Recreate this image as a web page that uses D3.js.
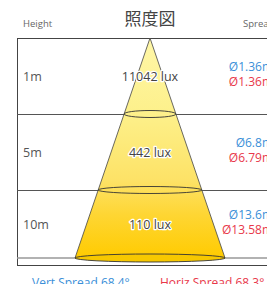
<!DOCTYPE html>
<html>
<head>
<meta charset="utf-8">
<script src="https://cdn.jsdelivr.net/npm/d3@7"></script>
<style>
  body { margin: 0; background: #fff; }
  svg { display: block; font-family: "Open Sans", sans-serif; }
</style>
</head>
<body>
<svg id="chart"></svg>
<script>
// rows of the illuminance chart
const heights = ["1m", "5m", "10m"];
const lux = [11042, 442, 110];
const vertDia = ["Ø1.36m", "Ø6.8m", "Ø13.6m"];
const horizDia = ["Ø1.36m", "Ø6.79m", "Ø13.58m"];
const vertSpread = 68.4;
const horizSpread = 68.3;

const width = 267, height = 284;
const svg = d3.select("#chart").attr("width", width).attr("height", height);

const blue = "#3a8fd8", red = "#e8384a";
const frameLeft = 17, frameTop = 38, frameBottom = 265, cx = 150;

// row edges (index -> y)
const y = d3.scaleLinear().domain([0, 1, 2, 3]).range([frameTop, 114, 190, 258]);
// cone half width as a function of y
const half = d3.scaleLinear().domain([frameTop, y(3)]).range([0, 75]);

const defs = svg.append("defs");
const grad = defs.append("linearGradient").attr("id", "cone")
    .attr("x1", 0).attr("y1", 0).attr("x2", 0).attr("y2", 1);
[[0, "#fff7a8"], [0.35, "#fdf08a"], [0.65, "#fde266"], [0.8, "#fed634"], [1, "#ffcb00"]]
  .forEach(([o, c]) => grad.append("stop").attr("offset", o).attr("stop-color", c));

// frame
const g = svg.append("g");
g.append("line").attr("x1", frameLeft).attr("x2", width + 5)
    .attr("y1", frameTop + 0.5).attr("y2", frameTop + 0.5).attr("stroke", "#444");
g.append("line").attr("x1", frameLeft + 0.5).attr("x2", frameLeft + 0.5)
    .attr("y1", frameTop).attr("y2", frameBottom).attr("stroke", "#444");
g.append("line").attr("x1", frameLeft).attr("x2", width + 5)
    .attr("y1", frameBottom + 0.5).attr("y2", frameBottom + 0.5).attr("stroke", "#444");
g.selectAll(".div").data([1, 2]).enter().append("line")
    .attr("x1", frameLeft).attr("x2", width + 5)
    .attr("y1", d => y(d) + 0.5).attr("y2", d => y(d) + 0.5)
    .attr("stroke", "#555");
g.append("line").attr("x1", frameLeft).attr("x2", width + 5)
    .attr("y1", y(3)).attr("y2", y(3)).attr("stroke", "#999").attr("stroke-width", 1.6);

// cone
const yb = y(3);
g.append("path")
    .attr("d", `M${cx},${frameTop}L${cx + half(yb)},${yb}L${cx - half(yb)},${yb}Z`)
    .attr("fill", "url(#cone)").attr("stroke", "#444").attr("stroke-width", 0.8)
    .attr("stroke-linejoin", "round");

// bottom ellipse filled, others outlined
g.append("ellipse").attr("cx", cx).attr("cy", yb).attr("rx", half(yb)).attr("ry", 4)
    .attr("fill", "#f7c800").attr("stroke", "#333").attr("stroke-width", 0.9);
g.selectAll(".ring").data([1, 2]).enter().append("ellipse")
    .attr("cx", cx).attr("cy", d => y(d)).attr("rx", d => half(y(d))).attr("ry", 3.5)
    .attr("fill", "none").attr("stroke", "#333").attr("stroke-width", 0.9);

const mid = i => (y(i) + y(i + 1)) / 2;

// row labels
g.selectAll(".h").data(heights).enter().append("text")
    .attr("x", 23).attr("y", (d, i) => mid(i) + 4.5)
    .attr("font-size", 12.5).attr("fill", "#555").text(d => d);

// lux labels with halo
g.selectAll(".lux").data(lux).enter().append("text")
    .attr("x", cx).attr("y", (d, i) => mid(i) + 4.5)
    .attr("text-anchor", "middle").attr("font-size", 12.5).attr("fill", "#444")
    .attr("stroke", "#fff").attr("stroke-width", 2.5).attr("paint-order", "stroke")
    .attr("stroke-linejoin", "round")
    .text(d => d + " lux");

// diameters
g.selectAll(".vd").data(vertDia).enter().append("text")
    .attr("x", 273).attr("y", (d, i) => mid(i) - 5)
    .attr("text-anchor", "end").attr("font-size", 12).attr("fill", blue).text(d => d);
g.selectAll(".hd").data(horizDia).enter().append("text")
    .attr("x", 273).attr("y", (d, i) => mid(i) + 10)
    .attr("text-anchor", "end").attr("font-size", 12).attr("fill", red).text(d => d);

// header
svg.append("text").attr("x", 23).attr("y", 27).attr("font-size", 9.5).attr("fill", "#666").text("Height");
svg.append("text").attr("x", 243).attr("y", 27).attr("font-size", 9.5).attr("fill", "#666").text("Spread");
svg.append("text").attr("x", cx).attr("y", 25).attr("text-anchor", "middle")
    .attr("font-family", "'Noto Sans CJK JP', sans-serif").attr("font-size", 17)
    .attr("fill", "#444").text("照度図");

// footer
svg.append("text").attr("x", 32).attr("y", 287).attr("font-size", 12).attr("fill", blue)
    .text(`Vert Spread ${vertSpread}°`);
svg.append("text").attr("x", 160).attr("y", 287).attr("font-size", 12).attr("fill", red)
    .text(`Horiz Spread ${horizSpread}°`);
</script>
</body>
</html>
